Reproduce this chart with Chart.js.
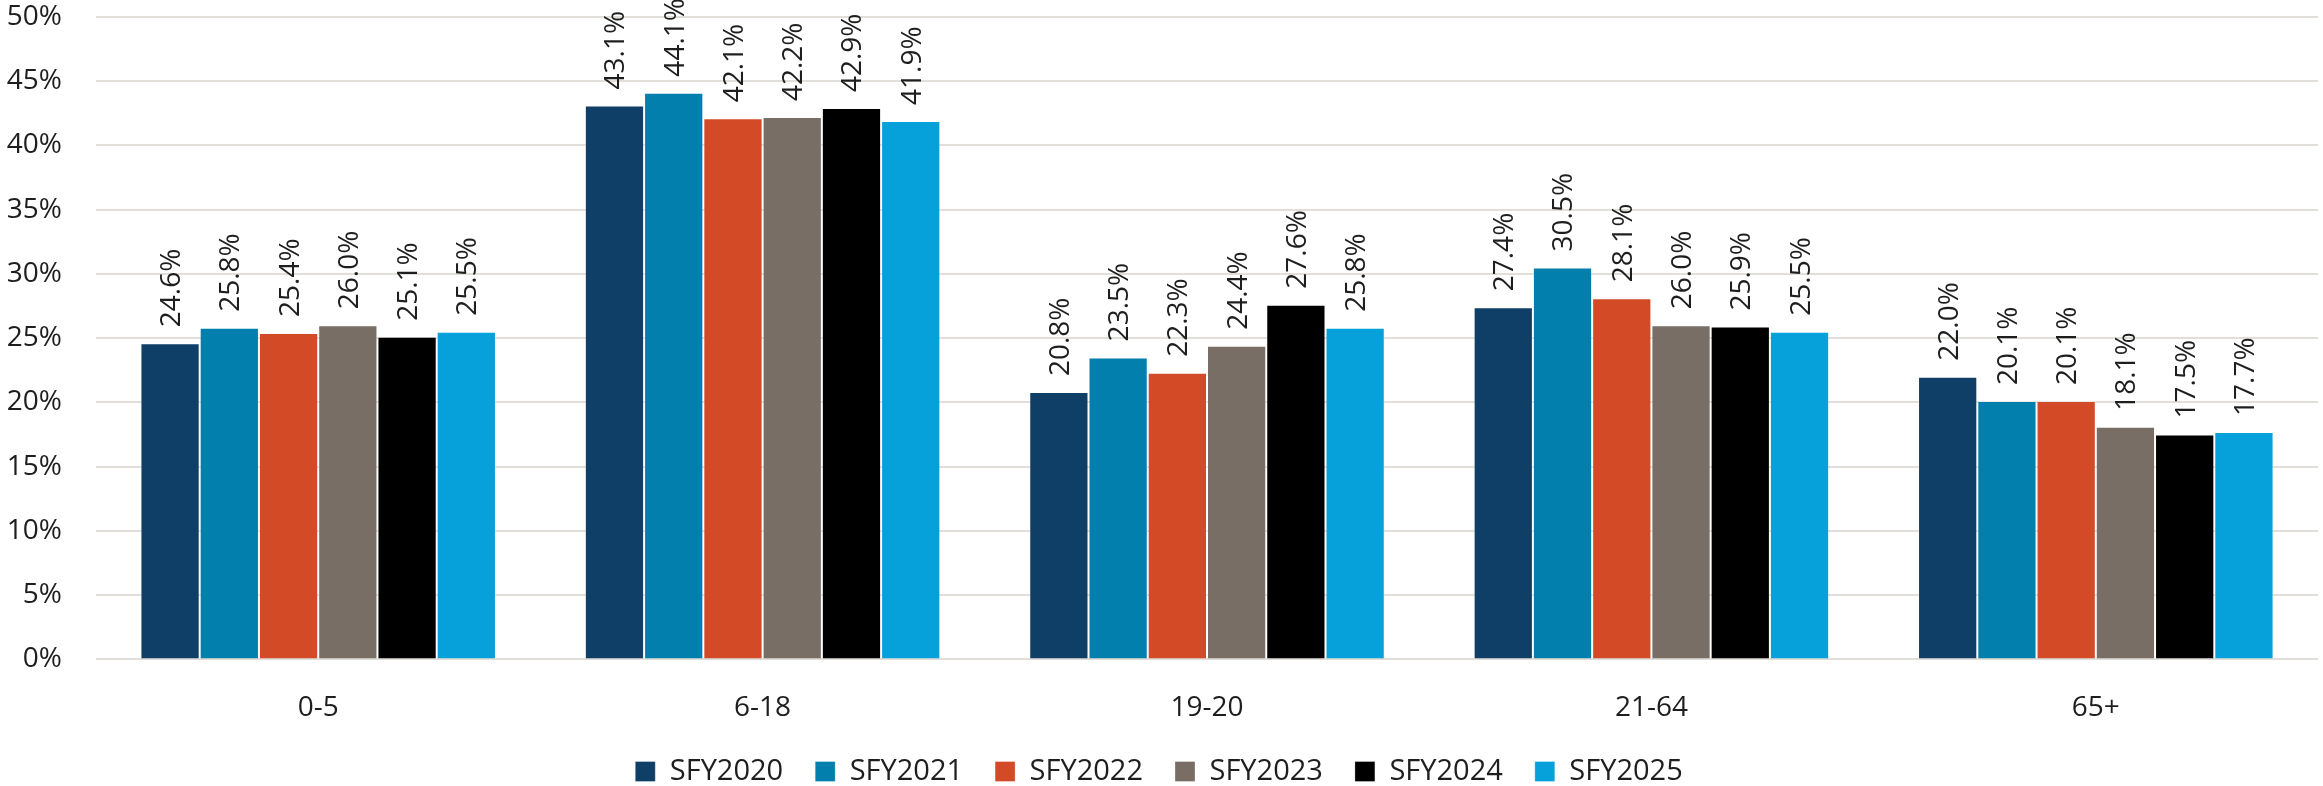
<!DOCTYPE html>
<html>
<head>
<meta charset="utf-8">
<script src="https://cdn.jsdelivr.net/npm/chart.js@4.4.1/dist/chart.umd.min.js"></script>
<style>
	html, body { margin: 0; padding: 0; background: #fff; }
	#wrap { width: 2323px; height: 786px; position: relative; }
</style>
</head>
<body>
<div id="wrap"><canvas id="bar-umur"></canvas></div>
<script>
// data (persen)
const kategori = ['0-5', '6-18', '19-20', '21-64', '65+'];
const seri = ['SFY2020', 'SFY2021', 'SFY2022', 'SFY2023', 'SFY2024', 'SFY2025'];
const sfy2020 = [24.6, 43.1, 20.8, 27.4, 22.0];
const sfy2021 = [25.8, 44.1, 23.5, 30.5, 20.1];
const sfy2022 = [25.4, 42.1, 22.3, 28.1, 20.1];
const sfy2023 = [26.0, 42.2, 24.4, 26.0, 18.1];
const sfy2024 = [25.1, 42.9, 27.6, 25.9, 17.5];
const sfy2025 = [25.5, 41.9, 25.8, 25.5, 17.7];
const yTicks = [0, 5, 10, 15, 20, 25, 30, 35, 40, 45, 50];

const warna = ['#0f3e67', '#037fad', '#d34a27', '#786e66', '#000000', '#06a0da'];
const FONT = "'Open Sans', 'Noto Sans', sans-serif";
const TEXT_COLOR = '#1e1e1e';

// label nilai diputar -90 derajat di atas batang
const labelBatang = {
	id: 'labelBatang',
	afterDatasetsDraw: (chart) => {
		const ctx = chart.ctx;
		ctx.save();
		ctx.font = '28px ' + FONT;
		ctx.fillStyle = TEXT_COLOR;
		ctx.textAlign = 'left';
		ctx.textBaseline = 'middle';
		chart.data.datasets.forEach((ds, i) => {
			const meta = chart.getDatasetMeta(i);
			meta.data.forEach((bar, j) => {
				ctx.save();
				ctx.translate(bar.x + 2, bar.y - 16);
				ctx.rotate(-Math.PI / 2);
				ctx.fillText(ds.data[j].toFixed(1) + '%', 0, 0);
				ctx.restore();
			});
		});
		ctx.restore();
	}
};

const dataSeri = [sfy2020, sfy2021, sfy2022, sfy2023, sfy2024, sfy2025];

new Chart(document.getElementById('bar-umur'), {
	type: 'bar',
	data: {
		labels: kategori,
		datasets: seri.map((nama, i) => ({
			label: nama,
			data: dataSeri[i],
			backgroundColor: warna[i],
			borderColor: 'rgba(255,255,255,0.3)',
			borderWidth: 1,
			categoryPercentage: 0.8,
			barPercentage: 1.0
		}))
	},
	options: {
		responsive: true,
		maintainAspectRatio: false,
		devicePixelRatio: 1,
		animation: false,
		layout: {
			padding: { top: 16, right: 5, bottom: -10, left: 0 }
		},
		scales: {
			x: {
				// jarak label pakai tickLength (padding dihitung dua kali oleh chart.js)
				grid: { display: false, drawTicks: true, tickLength: 32 },
				border: { display: false },
				ticks: {
					color: TEXT_COLOR,
					font: { family: FONT, size: 28 },
					padding: 0
				}
			},
			y: {
				min: 0,
				max: 50,
				afterFit: (scale) => { scale.width = 96; },
				afterBuildTicks: (scale) => {
					scale.ticks = yTicks.map(v => ({ value: v }));
				},
				grid: {
					color: '#e2deda',
					lineWidth: 2,
					drawTicks: true,
					tickLength: 34,
					tickColor: 'rgba(0,0,0,0)'
				},
				border: { display: false },
				ticks: {
					color: TEXT_COLOR,
					font: { family: FONT, size: 28 },
					padding: 0,
					callback: (v) => v + '%'
				}
			}
		},
		plugins: {
			legend: {
				position: 'bottom',
				labels: {
					color: TEXT_COLOR,
					font: { family: FONT, size: 29 },
					boxWidth: 20,
					boxHeight: 20,
					padding: 32
				}
			},
			tooltip: { enabled: false }
		}
	},
	plugins: [labelBatang]
});
</script>
</body>
</html>
